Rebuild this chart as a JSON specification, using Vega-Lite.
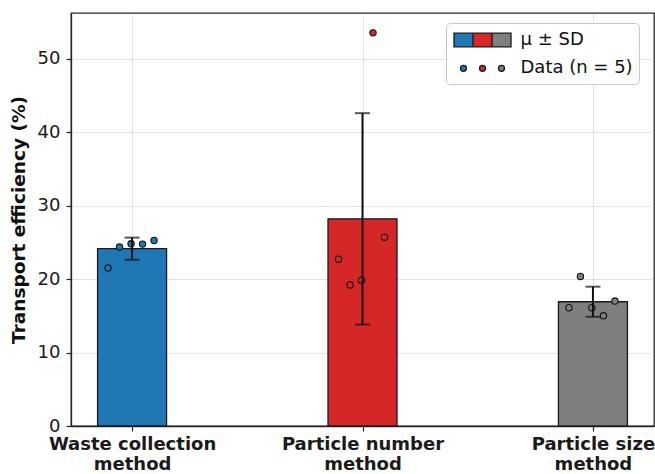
{
  "$schema": "https://vega.github.io/schema/vega-lite/v6.json",
  "width": 583,
  "height": 413,
  "autosize": "none",
  "padding": {"left": 71, "top": 13, "right": 1, "bottom": 48},
  "background": "white",
  "config": {
    "font": "DejaVu Sans",
    "view": {"stroke": "#262626", "strokeWidth": 1.3},
    "axis": {
      "domainColor": "#262626", "domainWidth": 1.3,
      "tickColor": "#262626", "tickWidth": 1.2, "tickSize": 5,
      "labelFont": "DejaVu Sans", "labelColor": "#1a1a1a",
      "gridColor": "#b0b0b0", "gridOpacity": 0.35, "gridWidth": 1,
      "zindex": 1
    }
  },
  "datasets": {
    "main": [
      {"method": "Waste collection method", "rep": 1, "value": 21.5},
      {"method": "Waste collection method", "rep": 2, "value": 24.35},
      {"method": "Waste collection method", "rep": 3, "value": 24.8},
      {"method": "Waste collection method", "rep": 4, "value": 24.75},
      {"method": "Waste collection method", "rep": 5, "value": 25.25},
      {"method": "Particle number method", "rep": 1, "value": 22.7},
      {"method": "Particle number method", "rep": 2, "value": 19.2},
      {"method": "Particle number method", "rep": 3, "value": 19.85},
      {"method": "Particle number method", "rep": 4, "value": 53.5},
      {"method": "Particle number method", "rep": 5, "value": 25.7},
      {"method": "Particle size method", "rep": 1, "value": 16.1},
      {"method": "Particle size method", "rep": 2, "value": 20.35},
      {"method": "Particle size method", "rep": 3, "value": 16.1},
      {"method": "Particle size method", "rep": 4, "value": 15.0},
      {"method": "Particle size method", "rep": 5, "value": 17.0}
    ],
    "legend": [
      {"leg": "μ ± SD"},
      {"leg": "Data (n = 5)"}
    ]
  },
  "data": {"name": "main"},
  "layer": [
    {
      "mark": {"type": "bar", "width": 69, "stroke": "#1a1a1a", "strokeWidth": 1.3, "opacity": 1},
      "encoding": {
        "x": {
          "field": "method", "type": "nominal",
          "scale": {"type": "point", "padding": 0.265, "domain": ["Waste collection method", "Particle number method", "Particle size method"]},
          "axis": {
            "title": null, "labelAngle": 0, "labelFontSize": 18, "labelFontWeight": "bold",
            "labelPadding": 4, "labelLineHeight": 20, "labelBaseline": "top",
            "labelExpr": "[replace(datum.label, ' method', ''), 'method']",
            "grid": true
          }
        },
        "y": {
          "aggregate": "mean", "field": "value", "type": "quantitative",
          "title": "Transport efficiency (%)",
          "scale": {"domain": [0, 56.2], "nice": false, "zero": true},
          "axis": {
            "values": [0, 10, 20, 30, 40, 50], "labelFontSize": 18, "labelPadding": 6,
            "titleFontSize": 18.5, "titleFontWeight": "bold", "titlePadding": 9, "titleColor": "#111",
            "grid": true
          }
        },
        "fill": {
          "field": "method", "type": "nominal",
          "scale": {"domain": ["Waste collection method", "Particle number method", "Particle size method"], "range": ["#1f77b4", "#d62728", "#7f7f7f"]},
          "legend": null
        }
      }
    },
    {
      "mark": {"type": "point", "filled": true, "size": 40, "stroke": "#111", "strokeWidth": 1.1, "opacity": 1, "fillOpacity": 1},
      "encoding": {
        "x": {"field": "method", "type": "nominal"},
        "xOffset": {"field": "rep", "type": "ordinal", "scale": {"type": "point", "padding": 0, "range": [-24, 22]}},
        "y": {"field": "value", "type": "quantitative", "title": "Transport efficiency (%)"},
        "fill": {"field": "method", "type": "nominal", "legend": null}
      }
    },
    {
      "mark": {"type": "errorbar", "extent": "stdev", "ticks": {"size": 15}, "color": "#111", "thickness": 2},
      "encoding": {
        "x": {"field": "method", "type": "nominal"},
        "y": {"field": "value", "type": "quantitative", "title": "Transport efficiency (%)"}
      }
    },
    {
      "data": {"name": "legend"},
      "mark": {"type": "point", "filled": true, "opacity": 0, "size": 400, "color": "#1f77b4"},
      "encoding": {
        "shape": {
          "field": "leg", "type": "nominal",
          "scale": {"domain": ["μ ± SD", "Data (n = 5)"], "range": ["M-2.85,-0.68H-0.95V0.68H-2.85Z", "M-2.2,0A0.3,0.3 0 1,0 -1.6,0A0.3,0.3 0 1,0 -2.2,0Z"]},
          "legend": {
            "orient": "none", "legendX": 375, "legendY": 10, "title": null,
            "symbolSize": 400, "symbolOpacity": 1, "symbolFillColor": "#1f77b4",
            "symbolOffset": 19.5, "labelOffset": 27, "labelFontSize": 18, "labelFont": "DejaVu Sans", "labelColor": "#111",
            "padding": 6, "rowPadding": 7.3,
            "fillColor": "white", "strokeColor": "#c8c8c8", "cornerRadius": 4, "zindex": 1
          }
        }
      }
    },
    {
      "data": {"name": "legend"},
      "mark": {"type": "point", "filled": true, "opacity": 0, "size": 400, "color": "#d62728"},
      "encoding": {
        "shape": {
          "field": "leg", "type": "nominal",
          "scale": {"domain": ["μ ± SD", "Data (n = 5)"], "range": ["M-0.95,-0.68H0.95V0.68H-0.95Z", "M-0.3,0A0.3,0.3 0 1,0 0.3,0A0.3,0.3 0 1,0 -0.3,0Z"]},
          "legend": {
            "orient": "none", "legendX": 375, "legendY": 10, "title": null,
            "symbolSize": 400, "symbolOpacity": 1, "symbolFillColor": "#d62728",
            "symbolOffset": 19.5, "labelOffset": 27, "labelFontSize": 18, "labelFont": "DejaVu Sans", "labelOpacity": 0,
            "padding": 6, "rowPadding": 7.3, "zindex": 2
          }
        }
      }
    },
    {
      "data": {"name": "legend"},
      "mark": {"type": "point", "filled": true, "opacity": 0, "size": 400, "color": "#7f7f7f"},
      "encoding": {
        "shape": {
          "field": "leg", "type": "nominal",
          "scale": {"domain": ["μ ± SD", "Data (n = 5)"], "range": ["M0.95,-0.68H2.85V0.68H0.95Z", "M1.6,0A0.3,0.3 0 1,0 2.2,0A0.3,0.3 0 1,0 1.6,0Z"]},
          "legend": {
            "orient": "none", "legendX": 375, "legendY": 10, "title": null,
            "symbolSize": 400, "symbolOpacity": 1, "symbolFillColor": "#7f7f7f",
            "symbolOffset": 19.5, "labelOffset": 27, "labelFontSize": 18, "labelFont": "DejaVu Sans", "labelOpacity": 0,
            "padding": 6, "rowPadding": 7.3, "zindex": 2
          }
        }
      }
    },
    {
      "data": {"name": "legend"},
      "mark": {"type": "point", "filled": false, "opacity": 0, "size": 400, "color": "#1a1a1a", "strokeWidth": 1.3},
      "encoding": {
        "shape": {
          "field": "leg", "type": "nominal",
          "scale": {"domain": ["μ ± SD", "Data (n = 5)"], "range": ["M-2.85,-0.68H2.85V0.68H-2.85ZM-0.95,-0.68V0.68M0.95,-0.68V0.68", "M-2.2,0A0.3,0.3 0 1,0 -1.6,0A0.3,0.3 0 1,0 -2.2,0ZM-0.3,0A0.3,0.3 0 1,0 0.3,0A0.3,0.3 0 1,0 -0.3,0ZM1.6,0A0.3,0.3 0 1,0 2.2,0A0.3,0.3 0 1,0 1.6,0Z"]},
          "legend": {
            "orient": "none", "legendX": 375, "legendY": 10, "title": null,
            "symbolSize": 400, "symbolOpacity": 1, "symbolStrokeColor": "#1a1a1a", "symbolStrokeWidth": 1.3, "symbolFillColor": "transparent",
            "symbolOffset": 19.5, "labelOffset": 27, "labelFontSize": 18, "labelFont": "DejaVu Sans", "labelOpacity": 0,
            "padding": 6, "rowPadding": 7.3, "zindex": 3
          }
        }
      }
    }
  ],
  "resolve": {"scale": {"shape": "independent"}, "legend": {"shape": "independent"}}
}
